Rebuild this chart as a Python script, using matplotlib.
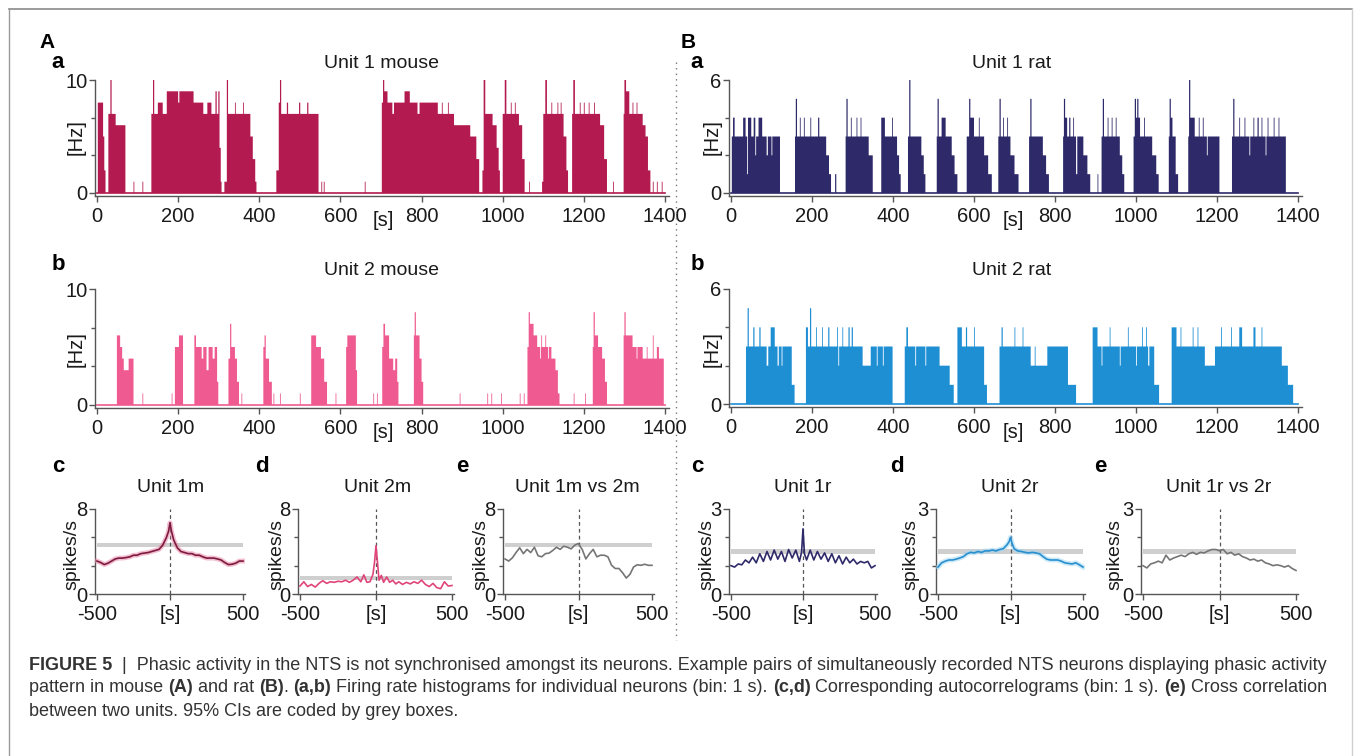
import numpy as np
import matplotlib
matplotlib.use('Agg')
import matplotlib.pyplot as plt
from matplotlib import font_manager as fm
from matplotlib.lines import Line2D

W, H = 1355, 756

names = set(f.name for f in fm.fontManager.ttflist)
NARROW = 'Liberation Sans Narrow' if 'Liberation Sans Narrow' in names else 'Liberation Sans'
plt.rcParams['font.family'] = [NARROW, 'DejaVu Sans']

# firing rate histograms, run-length coded: (start s, end s, rate Hz); later runs overwrite earlier ones
u1_mouse_runs = [
    (2, 15, 8), (15, 18, 5), (18, 21, 2),
    (28, 33, 7), (33, 36, 10), (36, 46, 7), (46, 70, 6),
    (90, 92, 1), (112, 114, 1),
    (134, 138, 7), (138, 141, 10), (141, 150, 7), (150, 162, 8), (162, 172, 7), (172, 200, 9), (200, 203, 8),
    (203, 238, 9), (238, 262, 8), (262, 272, 7), (272, 282, 8), (282, 292, 7), (292, 295, 9), (295, 299, 7),
    (299, 302, 9), (302, 305, 4), (305, 307, 1),
    (314, 320, 1), (320, 323, 10), (323, 340, 7), (340, 342, 8), (342, 360, 7), (360, 362, 8), (362, 378, 7),
    (378, 384, 5), (384, 390, 3), (390, 393, 1),
    (442, 448, 2), (448, 451, 8), (451, 454, 10), (454, 468, 7), (468, 471, 8), (471, 498, 7), (498, 501, 8),
    (501, 518, 7), (518, 521, 8), (521, 546, 7),
    (553, 555, 1), (559, 561, 1), (660, 662, 1),
    (702, 705, 8), (705, 708, 10), (708, 716, 9), (716, 728, 8), (728, 732, 7), (732, 758, 8), (758, 771, 9),
    (771, 790, 8), (790, 795, 7), (795, 840, 8), (840, 880, 7), (850, 852, 8), (865, 867, 8),
    (880, 920, 6), (920, 935, 5), (935, 942, 3),
    (950, 953, 2), (953, 957, 10), (957, 975, 7), (975, 985, 6), (985, 990, 4), (990, 993, 2),
    (1000, 1005, 7), (1005, 1009, 10), (1009, 1040, 7), (1020, 1022, 8), (1030, 1032, 8), (1040, 1048, 6),
    (1048, 1054, 3), (1065, 1067, 1),
    (1097, 1100, 1), (1100, 1105, 7), (1105, 1109, 10), (1109, 1150, 7), (1120, 1122, 8), (1135, 1137, 8),
    (1143, 1145, 8), (1150, 1157, 5), (1157, 1161, 2),
    (1171, 1174, 7), (1174, 1178, 10), (1178, 1240, 7), (1190, 1192, 8), (1200, 1202, 8), (1212, 1214, 8),
    (1225, 1227, 8), (1240, 1250, 6), (1250, 1257, 3), (1272, 1274, 1),
    (1298, 1300, 7), (1300, 1304, 10), (1304, 1312, 9), (1312, 1345, 7), (1320, 1322, 8), (1330, 1332, 8),
    (1345, 1352, 6), (1352, 1358, 5), (1358, 1364, 2),
    (1370, 1372, 1), (1380, 1382, 1), (1392, 1394, 1),
]

u2_mouse_runs = [
    (49, 57, 6), (57, 62, 5), (62, 66, 4), (66, 78, 3), (78, 90, 4),
    (112, 114, 1), (184, 186, 1),
    (192, 202, 5), (202, 212, 6),
    (240, 244, 6), (244, 258, 5), (258, 262, 4), (262, 270, 5), (270, 275, 3), (275, 285, 5), (285, 290, 4),
    (290, 296, 5), (296, 299, 2),
    (324, 328, 4), (328, 331, 7), (331, 340, 5), (340, 345, 4), (345, 350, 2), (356, 358, 1),
    (410, 413, 5), (413, 416, 6), (416, 424, 4), (424, 431, 2), (435, 437, 1), (451, 453, 1),
    (500, 502, 1),
    (528, 540, 6), (540, 552, 5), (552, 560, 4), (560, 567, 2), (588, 590, 1),
    (614, 617, 5), (617, 638, 6), (638, 641, 3),
    (681, 683, 1), (690, 692, 1),
    (703, 706, 5), (706, 710, 7), (710, 720, 6), (720, 730, 4), (730, 735, 3), (735, 740, 4), (740, 743, 2),
    (781, 783, 6), (783, 786, 8), (786, 795, 6), (795, 800, 4), (800, 804, 2),
    (894, 896, 1), (962, 964, 1), (972, 974, 1), (996, 998, 1), (1042, 1044, 1), (1052, 1054, 1),
    (1061, 1064, 5), (1064, 1067, 8), (1067, 1076, 7), (1076, 1085, 6), (1085, 1120, 5), (1092, 1094, 4),
    (1095, 1097, 6), (1105, 1107, 6), (1112, 1114, 4), (1120, 1130, 4), (1130, 1136, 3), (1136, 1140, 1),
    (1175, 1177, 1), (1203, 1205, 1),
    (1222, 1224, 5), (1224, 1227, 8), (1227, 1235, 6), (1235, 1245, 5), (1245, 1252, 4), (1252, 1257, 2),
    (1298, 1300, 6), (1300, 1303, 8), (1303, 1320, 6), (1320, 1345, 5), (1330, 1332, 4), (1345, 1370, 4),
    (1355, 1357, 5), (1370, 1372, 6), (1372, 1380, 4), (1380, 1385, 5), (1385, 1397, 4),
]

u1_rat_runs = [
    (2, 5, 3), (5, 9, 4), (9, 30, 3), (30, 36, 4), (36, 40, 3), (40, 42, 1), (42, 50, 4), (50, 56, 3),
    (56, 60, 4), (60, 62, 2), (62, 68, 3), (68, 77, 4), (77, 88, 3), (88, 91, 2), (91, 121, 3), (100, 102, 2),
    (158, 160, 3), (160, 163, 5), (163, 242, 3), (170, 172, 4), (180, 182, 4), (196, 198, 4), (215, 218, 4),
    (235, 242, 2), (242, 247, 1), (257, 260, 1),
    (283, 285, 3), (285, 288, 5), (288, 340, 3), (296, 298, 4), (310, 312, 4), (320, 322, 4), (340, 350, 2),
    (371, 380, 4), (380, 410, 3), (398, 400, 4), (410, 415, 2), (415, 419, 1),
    (437, 440, 3), (440, 443, 6), (443, 470, 3), (470, 476, 2), (476, 480, 1),
    (508, 510, 3), (510, 513, 5), (513, 520, 3), (520, 530, 4), (530, 545, 3), (545, 552, 2), (552, 559, 1),
    (582, 588, 3), (588, 591, 5), (591, 600, 4), (600, 625, 3), (612, 614, 4), (625, 635, 2), (635, 644, 1),
    (660, 663, 3), (663, 666, 5), (666, 690, 3), (672, 674, 4), (682, 684, 4), (690, 700, 2), (700, 710, 1),
    (736, 739, 3), (739, 742, 5), (742, 770, 3), (770, 778, 2), (778, 785, 1),
    (820, 822, 3), (822, 825, 5), (825, 830, 4), (830, 852, 3), (835, 838, 4), (845, 847, 4), (852, 855, 1),
    (855, 870, 3), (870, 880, 2), (880, 887, 1), (905, 907, 1),
    (915, 918, 3), (918, 921, 5), (921, 960, 3), (930, 932, 4), (940, 942, 4), (950, 952, 4), (960, 966, 2),
    (966, 971, 1),
    (994, 997, 3), (997, 1000, 5), (1000, 1003, 4), (1003, 1006, 5), (1006, 1010, 4), (1010, 1040, 3),
    (1020, 1022, 4), (1040, 1050, 2), (1050, 1056, 1),
    (1081, 1083, 3), (1083, 1086, 5), (1086, 1090, 4), (1090, 1098, 3), (1098, 1104, 1),
    (1129, 1131, 3), (1131, 1134, 6), (1134, 1145, 4), (1145, 1206, 3), (1155, 1157, 4), (1165, 1167, 4),
    (1175, 1177, 2),
    (1237, 1240, 3), (1240, 1243, 5), (1243, 1370, 3), (1255, 1257, 4), (1268, 1270, 4), (1280, 1282, 2),
    (1290, 1292, 4), (1300, 1303, 4), (1310, 1312, 4), (1320, 1322, 2), (1325, 1327, 4), (1340, 1342, 4),
    (1352, 1354, 4),
]

u2_rat_runs = [
    (37, 41, 3), (41, 44, 5), (44, 150, 3), (55, 58, 4), (70, 73, 4), (88, 92, 2), (98, 108, 4),
    (115, 118, 2), (125, 127, 2), (150, 157, 1),
    (185, 190, 4), (190, 195, 3), (195, 198, 5), (198, 325, 3), (210, 212, 4), (225, 227, 4), (240, 243, 4),
    (262, 264, 4), (265, 267, 2), (275, 277, 4), (290, 293, 4), (298, 301, 4), (325, 345, 2), (345, 399, 3),
    (360, 362, 2), (375, 377, 2),
    (429, 433, 3), (433, 437, 4), (437, 515, 3), (455, 457, 2), (480, 482, 2), (515, 540, 2), (540, 550, 1),
    (559, 570, 4), (570, 625, 3), (580, 583, 4), (600, 602, 4), (625, 632, 1),
    (663, 740, 3), (668, 671, 4), (700, 702, 4), (720, 722, 4), (740, 781, 2), (750, 752, 3), (781, 832, 3),
    (832, 852, 1),
    (893, 905, 4), (905, 1045, 3), (915, 917, 2), (935, 937, 4), (960, 962, 2), (980, 982, 4), (1000, 1002, 2),
    (1015, 1017, 4), (1025, 1027, 4), (1030, 1033, 2), (1045, 1057, 1),
    (1088, 1100, 4), (1100, 1170, 3), (1110, 1112, 4), (1140, 1142, 4), (1152, 1154, 4), (1170, 1195, 2),
    (1195, 1360, 3), (1210, 1212, 4), (1235, 1237, 4), (1255, 1262, 4), (1290, 1295, 4), (1310, 1312, 4),
    (1360, 1375, 2), (1375, 1388, 1),
]

# correlograms (lag in s, spikes/s)
lags = [-500, -475, -450, -425, -400, -375, -350, -325, -300, -275, -250, -225, -200, -175, -150, -125,
        -100, -75, -50, -25, -10, 0, 10, 25, 50, 75, 100, 125, 150, 175, 200, 225, 250, 275, 300, 325,
        350, 375, 400, 425, 450, 475, 500]
ac_1m = [3.1, 2.96, 2.77, 2.9, 3.1, 3.3, 3.38, 3.38, 3.43, 3.5, 3.65, 3.65, 3.8, 3.85, 3.9, 4.0,
         4.1, 4.2, 4.6, 5.3, 5.9, 6.7, 5.9, 5.1, 4.35, 4.0, 3.9, 3.8, 3.8, 3.65, 3.65, 3.5, 3.38,
         3.38, 3.38, 3.3, 3.2, 2.96, 2.77, 2.8, 2.9, 3.1, 3.1]
cc_m = [3.3, 3.1, 3.4, 3.9, 4.35, 3.8, 4.2, 3.9, 4.4, 3.6, 3.5, 3.8, 3.85, 4.1, 4.4, 4.2,
        4.5, 4.4, 4.25, 4.6, 4.7, 4.75, 4.5, 4.2, 3.3, 3.8, 4.2, 3.5, 3.65, 3.65, 3.5, 2.7,
        2.4, 2.4, 2.0, 1.5, 1.85, 2.55, 2.75, 2.7, 2.8, 2.7, 2.7]
ac_1r = [1.0, 0.95, 1.06, 1.03, 1.2, 1.1, 1.3, 1.1, 1.42, 1.15, 1.5, 1.2, 1.55, 1.23, 1.5, 1.15,
         1.57, 1.27, 1.55, 1.15, 1.47, 2.3, 1.42, 1.2, 1.55, 1.2, 1.5, 1.23, 1.45, 1.15, 1.42, 1.1,
         1.35, 1.06, 1.3, 1.1, 1.23, 1.06, 1.15, 1.1, 1.15, 0.92, 1.0]
ac_2r = [0.95, 1.1, 1.16, 1.2, 1.2, 1.23, 1.27, 1.32, 1.42, 1.47, 1.45, 1.5, 1.47, 1.52, 1.52, 1.55,
         1.52, 1.57, 1.6, 1.73, 1.84, 2.0, 1.8, 1.6, 1.52, 1.5, 1.47, 1.45, 1.47, 1.45, 1.42, 1.32,
         1.23, 1.2, 1.2, 1.2, 1.16, 1.1, 1.08, 1.06, 1.1, 1.03, 0.95]
cc_r = [1.0, 0.92, 1.06, 1.1, 1.16, 1.1, 1.37, 1.2, 1.27, 1.32, 1.37, 1.32, 1.42, 1.47, 1.4, 1.47,
        1.45, 1.52, 1.57, 1.57, 1.55, 1.52, 1.55, 1.57, 1.42, 1.47, 1.37, 1.42, 1.32, 1.27, 1.2, 1.23,
        1.16, 1.2, 1.1, 1.06, 1.0, 1.03, 1.0, 0.95, 1.0, 0.9, 0.83]

lags_2m = [-500, -475, -450, -425, -400, -375, -350, -325, -300, -275, -250, -225, -200, -175, -150,
           -125, -100, -80, -60, -40, -20, -10, 0, 10, 20, 35, 50, 70, 90, 110, 130, 150, 175, 200,
           225, 250, 275, 300, 325, 350, 375, 400, 425, 450, 475, 500]
ac_2m = [0.75, 1.15, 0.7, 0.9, 0.65, 1.0, 1.25, 1.0, 1.15, 1.1, 1.2, 1.15, 1.3, 1.1, 1.3,
         1.6, 1.15, 1.8, 1.1, 1.15, 1.85, 2.95, 4.55, 2.95, 1.3, 1.75, 1.1, 1.6, 1.1, 1.3, 0.95, 1.15,
         0.9, 1.1, 0.95, 1.15, 1.0, 1.3, 0.9, 0.7, 1.0, 0.6, 0.5, 1.15, 0.75, 0.8]

# 95% CI levels (grey boxes)
ci_1m, ci_2m, ci_cm = 4.6, 1.5, 4.6
ci_1r, ci_2r, ci_cr = 1.5, 1.5, 1.5

C_U1M = '#b31a4f'
C_U2M = '#ef5b90'
C_U1R = '#2e2a6a'
C_U2R = '#1f8fd4'
SPINE = '#555555'
TICK_FS = 14.5


def expand(runs, n=1400):
    r = np.zeros(n)
    for a, b, v in runs:
        r[a:b] = v
    return r


fig = plt.figure(figsize=(W / 100, H / 100), dpi=100)


def place(px0, px1, dx0, dx1, xlim, py_top, py_bot, dy_top, dy_bot, ylim):
    sx = (px1 - px0) / (dx1 - dx0)
    left = px0 + (xlim[0] - dx0) * sx
    right = px0 + (xlim[1] - dx0) * sx
    sy = (py_bot - py_top) / (dy_top - dy_bot)
    top = py_top - (ylim[1] - dy_top) * sy
    bot = py_bot + (dy_bot - ylim[0]) * sy
    ax = fig.add_axes([left / W, 1 - bot / H, (right - left) / W, (bot - top) / H])
    ax.set_xlim(xlim)
    ax.set_ylim(ylim)
    for s in ['top', 'right']:
        ax.spines[s].set_visible(False)
    for s in ['left', 'bottom']:
        ax.spines[s].set_color(SPINE)
        ax.spines[s].set_linewidth(1.0)
    ax.tick_params(which='both', color=SPINE, labelsize=TICK_FS, labelcolor='#1a1a1a')
    ax.tick_params(axis='y', pad=1.5)
    ax.tick_params(axis='x', pad=4)
    ax.tick_params(which='major', length=4, width=1)
    ax.tick_params(which='minor', length=3, width=1)
    return ax


def ftext(px, py, s, **kw):
    return fig.text(px / W, 1 - py / H, s, **kw)


def histo(px0, px1, py_top, py_bot, runs, top, color):
    ax = place(px0, px1, 0, 1400, (-5, 1410), py_top, py_bot, top, 0, (-top * 0.025, top))
    rate = expand(runs)
    edges = np.arange(len(rate) + 1)
    ax.stairs(rate, edges, fill=True, color=color, linewidth=0)
    ax.plot([0, 1400], [0, 0], color=color, lw=1.2)
    ax.set_xticks(range(0, 1401, 200))
    ax.set_yticks([0, top])
    ax.set_yticks([top / 3, 2 * top / 3], minor=True)
    ax.set_yticklabels([str(0), str(top)])
    return ax


def corr(px0, px1, x, y, ci, top, color, halo=None):
    ax = place(px0, px1, -500, 500, (-515, 515), 509, 594, top, 0, (0, top))
    ax.axhspan(ci - top * 0.024, ci + top * 0.024, xmin=0.015, xmax=0.985, color='#cfcfcf', lw=0, zorder=1)
    ax.plot([0, 0], [0, top], color='#555555', lw=0.9, dashes=(3, 2.5), zorder=2)
    if halo:
        ax.plot(x, y, color=halo, lw=3.5, alpha=0.55, zorder=3, solid_joinstyle='round')
    ax.plot(x, y, color=color, lw=1.2, zorder=4)
    ax.set_xticks([-500, 0, 500])
    ax.set_xticklabels(['-500', '[s]', '500'])
    ax.set_yticks([0, top])
    ax.set_yticks([top / 3, 2 * top / 3], minor=True)
    return ax


# panels a, b
histo(97, 665, 80, 193, u1_mouse_runs, 10, C_U1M)
histo(731, 1298, 80, 193, u1_rat_runs, 6, C_U1R)
histo(97, 665, 289, 405, u2_mouse_runs, 10, C_U2M)
histo(731, 1298, 289, 404, u2_rat_runs, 6, C_U2R)

# panels c, d, e
corr(97, 243, lags, ac_1m, ci_1m, 8, '#7e1a3f', halo='#e88aa8')
corr(300, 452, lags_2m, ac_2m, ci_2m, 8, '#e0457a')
corr(505, 652, lags, cc_m, ci_cm, 8, '#757575')
corr(731, 875, lags, ac_1r, ci_1r, 3, '#2e2a6a')
corr(938, 1083, lags, ac_2r, ci_2r, 3, '#2a8fce', halo='#9fd8f5')
corr(1143, 1296, lags, cc_r, ci_cr, 3, '#757575')

# titles and axis labels
title_kw = dict(ha='center', va='center', fontsize=14, color='#1a1a1a')
ftext(382, 64, 'Unit 1 mouse', **title_kw)
ftext(1012, 64, 'Unit 1 rat', **title_kw)
ftext(382, 270, 'Unit 2 mouse', **title_kw)
ftext(1012, 270, 'Unit 2 rat', **title_kw)
for px, s in [(171, 'Unit 1m'), (378, 'Unit 2m'), (577, 'Unit 1m vs 2m'),
              (803, 'Unit 1r'), (1010, 'Unit 2r'), (1219, 'Unit 1r vs 2r')]:
    ftext(px, 488, s, **title_kw)

lab_kw = dict(ha='center', va='center', fontsize=TICK_FS, color='#1a1a1a')
for px, py in [(76, 137), (712, 137), (76, 349), (712, 349)]:
    ftext(px, py, '[Hz]', rotation=90, **lab_kw)
for px, py in [(383, 221), (1013, 221), (383, 433), (1013, 433)]:
    ftext(px, py, '[s]', **lab_kw)
for px in [72, 277, 481, 707, 911, 1115]:
    ftext(px, 554, 'spikes/s', rotation=90, ha='center', va='center', fontsize=14, color='#1a1a1a')

# panel letters
let_kw = dict(ha='center', va='center', fontweight='bold', color='black', family='Liberation Sans')
ftext(47, 42, 'A', fontsize=15, **let_kw)
ftext(688, 42, 'B', fontsize=15, **let_kw)
for px, py, s in [(58, 62, 'a'), (697, 62, 'a'), (58, 265, 'b'), (697, 265, 'b'),
                  (58, 467, 'c'), (262, 467, 'd'), (462, 467, 'e'),
                  (697, 467, 'c'), (897, 467, 'd'), (1100, 467, 'e')]:
    ftext(px, py, s, fontsize=16, **let_kw)

# frame and divider
fig.add_artist(Line2D([9 / W, 1352 / W], [1 - 9 / H, 1 - 9 / H], color='#8a8a8a', lw=1.2))
fig.add_artist(Line2D([9 / W, 9 / W], [0, 1 - 9 / H], color='#9a9a9a', lw=1.0))
fig.add_artist(Line2D([1352 / W, 1352 / W], [0, 1 - 9 / H], color='#d0d0d0', lw=1.0))
fig.add_artist(Line2D([676 / W, 676 / W], [1 - 62 / H, 1 - 640 / H], color='#777777', lw=1.0,
                      dashes=(1, 3)))

# caption
cap_lines = [
    [('FIGURE 5', True), ('  |  Phasic activity in the NTS is not synchronised amongst its neurons. Example pairs of '
                          'simultaneously recorded NTS neurons displaying phasic activity', False)],
    [('pattern in mouse ', False), ('(A)', True), (' and rat ', False), ('(B)', True), ('. ', False),
     ('(a,b)', True), (' Firing rate histograms for individual neurons (bin: 1 s). ', False), ('(c,d)', True),
     (' Corresponding autocorrelograms (bin: 1 s). ', False), ('(e)', True), (' Cross correlation', False)],
    [('between two units. 95% CIs are coded by grey boxes.', False)],
]
renderer = fig.canvas.get_renderer()
for i, parts in enumerate(cap_lines):
    x = 29
    for txt, bold in parts:
        t = ftext(x, 665 + 23 * i, txt, ha='left', va='center', fontsize=13, color='#333333',
                  fontweight='bold' if bold else 'normal')
        x += t.get_window_extent(renderer=renderer).width

fig.savefig('out.png', dpi=100)
